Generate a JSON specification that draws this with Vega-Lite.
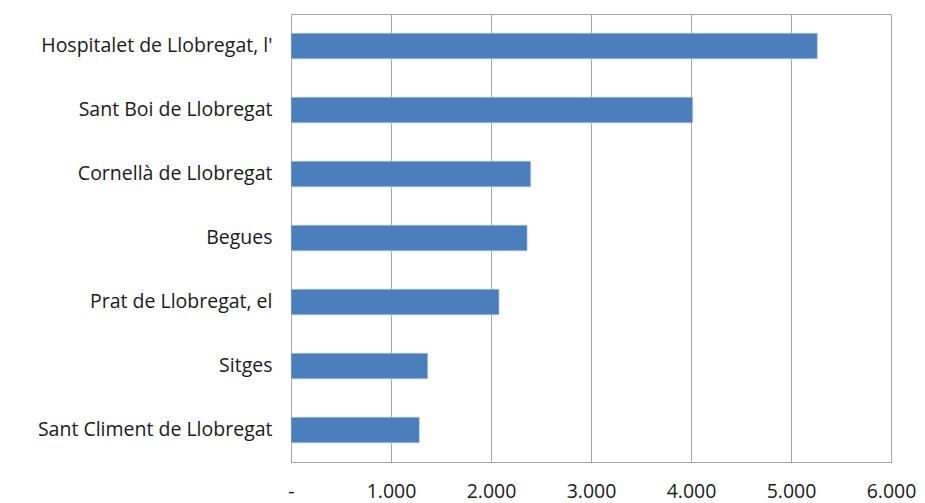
{
  "$schema": "https://vega.github.io/schema/vega-lite/v6.json",
  "width": 600,
  "height": 448,
  "autosize": "none",
  "padding": {"left": 291, "top": 14, "right": 34, "bottom": 41},
  "background": "white",
  "config": {
    "font": "Open Sans",
    "view": {"stroke": "#A6A6A6", "strokeWidth": 1}
  },
  "data": {
    "values": [
      {"municipi": "Hospitalet de Llobregat, l'", "valor": 5263},
      {"municipi": "Sant Boi de Llobregat", "valor": 4017},
      {"municipi": "Cornellà de Llobregat", "valor": 2397},
      {"municipi": "Begues", "valor": 2361},
      {"municipi": "Prat de Llobregat, el", "valor": 2080},
      {"municipi": "Sitges", "valor": 1367},
      {"municipi": "Sant Climent de Llobregat", "valor": 1283}
    ]
  },
  "mark": {"type": "bar", "color": "#4A7EBB", "stroke": "#B9CDE5", "strokeWidth": 0.6},
  "encoding": {
    "y": {
      "field": "municipi",
      "type": "nominal",
      "sort": null,
      "scale": {"paddingInner": 0.6, "paddingOuter": 0.3},
      "axis": {
        "title": null,
        "ticks": false,
        "domainColor": "#A6A6A6",
        "labelFontSize": 19.5,
        "labelColor": "#1a1a1a",
        "labelPadding": 19,
        "labelLimit": 300
      }
    },
    "x": {
      "field": "valor",
      "type": "quantitative",
      "scale": {"domain": [0, 6000], "nice": false},
      "axis": {
        "title": null,
        "values": [0, 1000, 2000, 3000, 4000, 5000, 6000],
        "labelExpr": "datum.value == 0 ? '-' : replace(format(datum.value, ','), ',', '.')",
        "ticks": false,
        "domainColor": "#A6A6A6",
        "gridColor": "#A6A6A6",
        "gridOpacity": 1,
        "labelFontSize": 19.5,
        "labelColor": "#1a1a1a",
        "labelPadding": 20,
        "labelFlush": false,
        "labelOverlap": false
      }
    }
  }
}
